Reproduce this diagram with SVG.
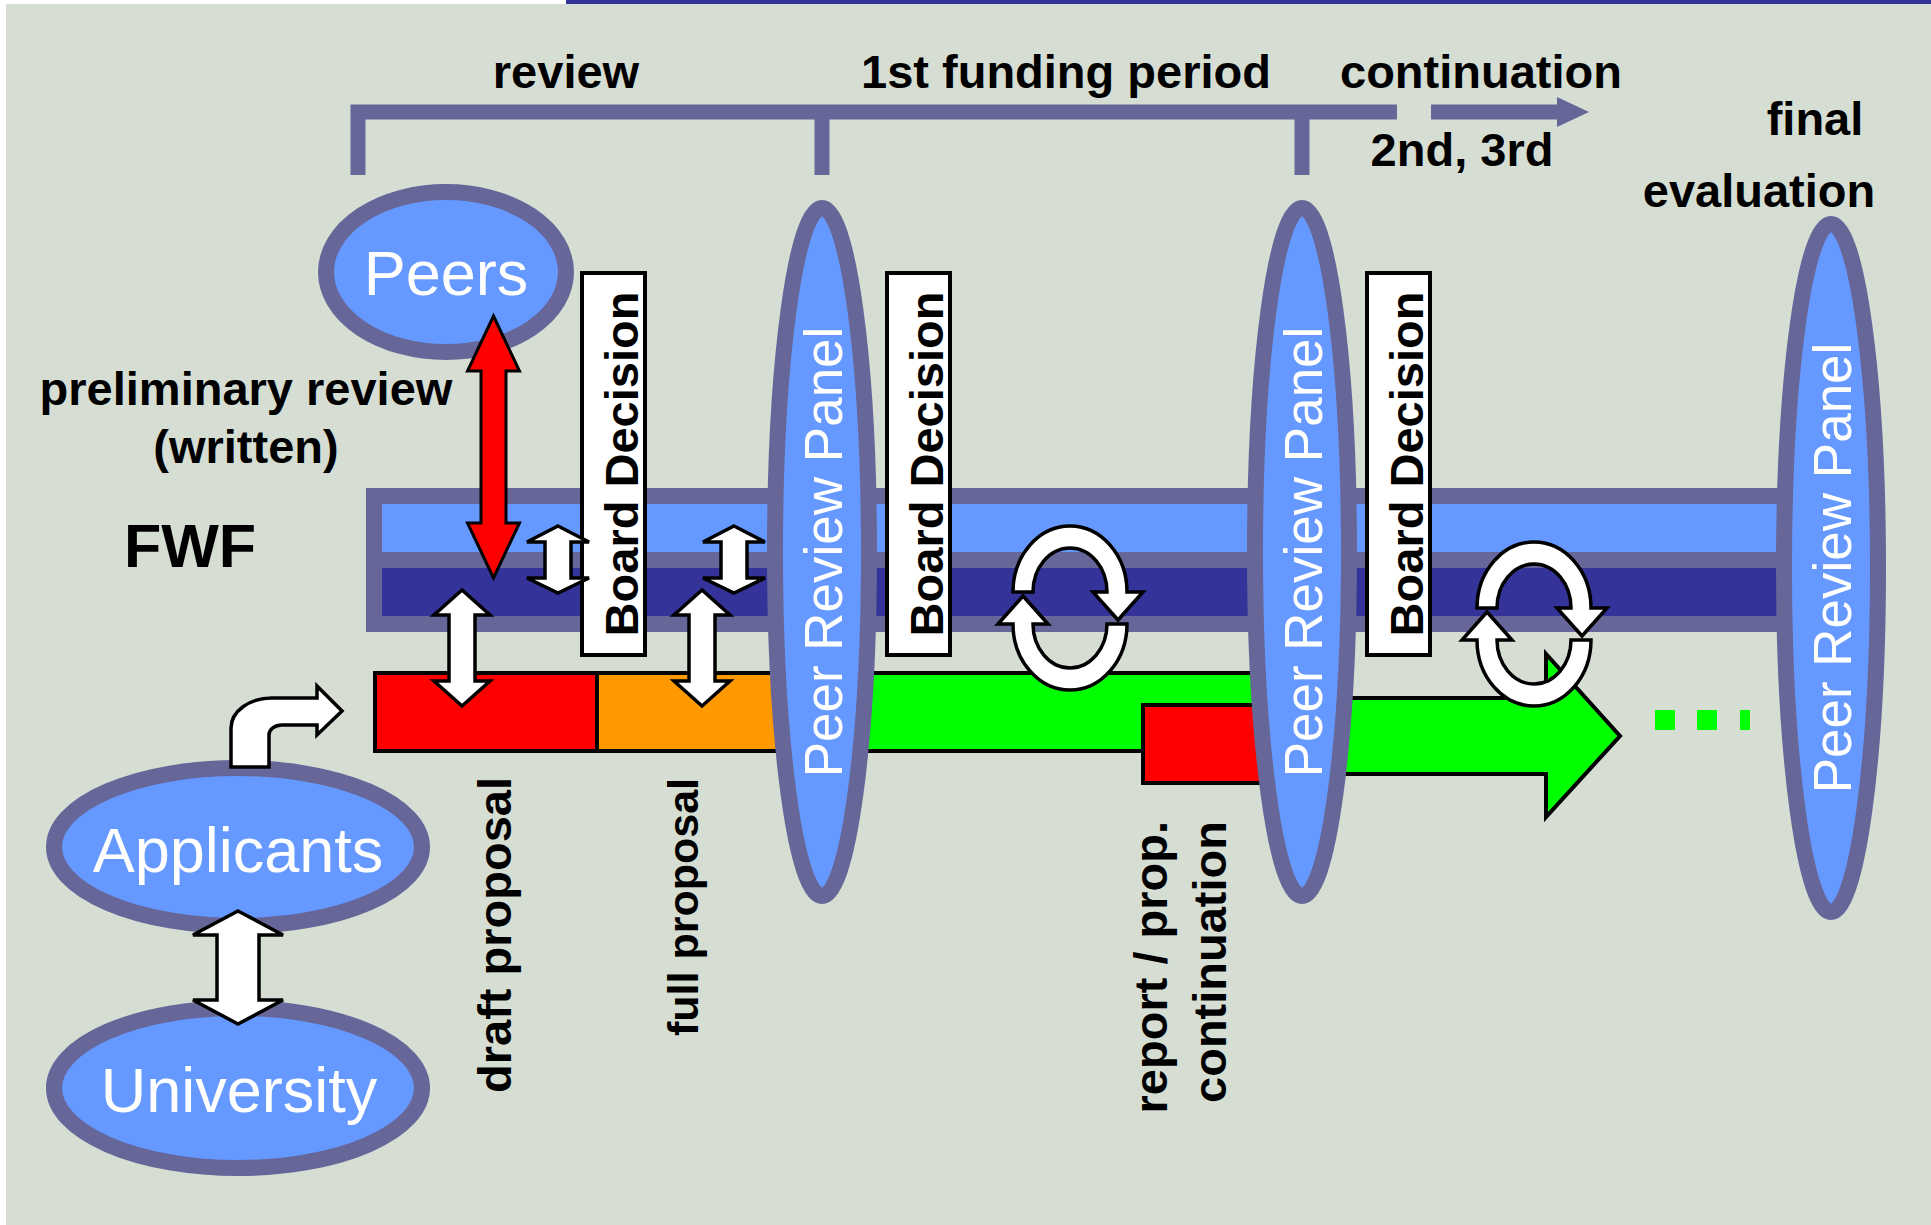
<svg xmlns="http://www.w3.org/2000/svg" width="1931" height="1225" viewBox="0 0 1931 1225">
<style>
.t{font-family:"Liberation Sans",Arial,sans-serif;}
.b{font-weight:bold;fill:#000;font-size:47px;}
.w{fill:#fff;}
.ell{fill:#6699FF;stroke:#666699;stroke-width:16;}
.pt{font-family:"Liberation Sans",Arial,sans-serif;fill:#fff;font-size:53px;text-anchor:middle;}
.bd{fill:#fff;stroke:#000;stroke-width:4;}
.bdt{font-family:"Liberation Sans",Arial,sans-serif;font-weight:bold;font-size:47px;text-anchor:middle;fill:#000;}
.bar{stroke:#000;stroke-width:4;}
.wa{fill:#fff;stroke:#000;stroke-width:3.5;stroke-linejoin:miter;}
.br{fill:none;stroke:#666699;stroke-width:15;}
</style>
<rect x="0" y="0" width="1931" height="1225" fill="#fff"/>
<rect x="6" y="4" width="1925" height="1221" fill="#D6DED4"/>
<rect x="566" y="0" width="1365" height="4" fill="#333399"/>

<g id="timeline">
<path class="br" d="M358,175 L358,112 L1397,112 M822,112 L822,175 M1302,112 L1302,175 M1431,112 L1558,112"/>
<polygon points="1557,97 1589,112 1557,127" fill="#666699"/>
<text class="t b" x="566" y="88" text-anchor="middle">review</text>
<text class="t b" x="1066" y="88" text-anchor="middle">1st funding period</text>
<text class="t b" x="1481" y="88" text-anchor="middle">continuation</text>
<text class="t b" x="1462" y="166" text-anchor="middle">2nd, 3rd</text>
<text class="t b" x="1815" y="135" text-anchor="middle">final</text>
<text class="t b" x="1759" y="207" text-anchor="middle">evaluation</text>
</g>

<g id="peers">
<ellipse class="ell" cx="446" cy="272" rx="120" ry="80"/>
<text class="t w" x="446" y="295" font-size="63" text-anchor="middle">Peers</text>
</g>

<g id="prelim-label">
<text class="t b" x="246" y="405" text-anchor="middle">preliminary review</text>
<text class="t b" x="246" y="463" text-anchor="middle">(written)</text>
</g>

<g id="fwf">
<rect x="366" y="488" width="1464" height="144" fill="#666699"/>
<rect x="382" y="504" width="1448" height="48" fill="#6699FF"/>
<rect x="382" y="568" width="1448" height="48" fill="#333399"/>
<text class="t" x="190" y="567" font-size="61" font-weight="bold" text-anchor="middle">FWF</text>
</g>

<g id="proposal-bars">
<rect class="bar" x="375" y="673" width="222" height="78" fill="#FF0000"/>
<rect class="bar" x="597" y="673" width="230" height="78" fill="#FF9900"/>
<rect class="bar" x="827" y="673" width="470" height="78" fill="#00FF00"/>
<rect class="bar" x="1143" y="705" width="160" height="78" fill="#FF0000"/>
<polygon class="bar" points="1290,698 1546,698 1546,654 1620,736 1546,817 1546,774 1290,774" fill="#00FF00"/>
<rect x="1655" y="710" width="20" height="20" fill="#00FF00"/>
<rect x="1697" y="710" width="20" height="20" fill="#00FF00"/>
<rect x="1740" y="710" width="10" height="20" fill="#00FF00"/>
</g>

<g id="proposal-labels" class="t" font-weight="bold">
<text transform="translate(511,777) rotate(-90)" font-size="47" text-anchor="end">draft proposal</text>
<text transform="translate(698,778) rotate(-90)" font-size="43" text-anchor="end">full proposal</text>
<text transform="translate(1167,821) rotate(-90)" font-size="47" text-anchor="end">report / prop.</text>
<text transform="translate(1226,821) rotate(-90)" font-size="47" text-anchor="end">continuation</text>
</g>

<g id="board1">
<rect class="bd" x="582" y="273" width="63" height="382"/>
<text class="bdt" transform="translate(638,464) rotate(-90)">Board Decision</text>
</g>
<g id="board2">
<rect class="bd" x="887" y="273" width="63" height="382"/>
<text class="bdt" transform="translate(943,464) rotate(-90)">Board Decision</text>
</g>
<g id="board3">
<rect class="bd" x="1367" y="273" width="63" height="382"/>
<text class="bdt" transform="translate(1423,464) rotate(-90)">Board Decision</text>
</g>

<g id="panel1">
<ellipse class="ell" cx="822" cy="552" rx="47" ry="344"/>
<text class="pt" transform="translate(842,552) rotate(-90)">Peer Review Panel</text>
</g>
<g id="panel2">
<ellipse class="ell" cx="1302" cy="552" rx="47" ry="344"/>
<text class="pt" transform="translate(1322,552) rotate(-90)">Peer Review Panel</text>
</g>
<g id="panel3">
<ellipse class="ell" cx="1831" cy="568" rx="47" ry="344"/>
<text class="pt" transform="translate(1851,568) rotate(-90)">Peer Review Panel</text>
</g>

<g id="applicants">
<ellipse class="ell" cx="238" cy="847" rx="184" ry="79"/>
<text class="t w" x="238" y="872" font-size="63" text-anchor="middle">Applicants</text>
</g>
<g id="university">
<ellipse class="ell" cx="238" cy="1088" rx="184" ry="80"/>
<text class="t w" x="239" y="1112" font-size="63" text-anchor="middle">University</text>
</g>

<g id="connectors">
<path d="M493.5,316 L519.5,371 L506,371 L506,523 L519.5,523 L493.5,578 L467.5,523 L481,523 L481,371 L467.5,371 Z" fill="#FF0000" stroke="#000" stroke-width="3"/>
<path class="wa" d="M558,526 L589,542 L571,542 L571,578 L589,578 L558,593 L527,578 L545,578 L545,542 L527,542 Z"/>
<path class="wa" d="M734,526 L765,542 L747,542 L747,578 L765,578 L734,593 L703,578 L721,578 L721,542 L703,542 Z"/>
<path class="wa" d="M462,590 L490,615 L475,615 L475,681 L490,681 L462,706 L434,681 L449,681 L449,615 L434,615 Z"/>
<path class="wa" d="M702,590 L730,615 L715,615 L715,681 L730,681 L702,706 L674,681 L689,681 L689,615 L674,615 Z"/>
<path class="wa" d="M238,911 L283,935 L259,935 L259,1000 L283,1000 L238,1024 L193,1000 L217,1000 L217,935 L193,935 Z"/>
<path class="wa" d="M231,767 L231,728 A41,30 0 0 1 272,698 L317,698 L317,686 L342,711 L317,735 L317,725 L282,725 A13,10 0 0 0 269,735 L269,767 Z"/>
<g id="cycle1">
<path class="wa" d="M1013,592 A57,66 0 0 1 1127,592 L1143,592 L1118,620 L1093,592 L1107,592 A37,44 0 0 0 1033,592 Z"/>
<path class="wa" d="M1127,624 A57,66 0 0 1 1013,624 L998,624 L1023,596 L1048,624 L1033,624 A37,44 0 0 0 1107,624 Z"/>
</g>
<g id="cycle2" transform="translate(464,16)">
<path class="wa" d="M1013,592 A57,66 0 0 1 1127,592 L1143,592 L1118,620 L1093,592 L1107,592 A37,44 0 0 0 1033,592 Z"/>
<path class="wa" d="M1127,624 A57,66 0 0 1 1013,624 L998,624 L1023,596 L1048,624 L1033,624 A37,44 0 0 0 1107,624 Z"/>
</g>
</g>
</svg>
